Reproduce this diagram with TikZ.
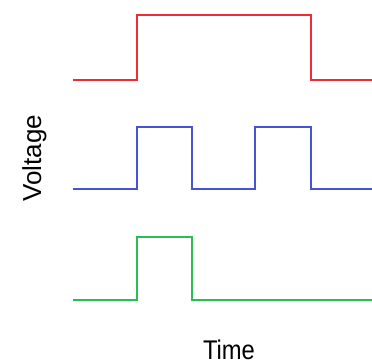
\documentclass[tikz,border=0pt]{standalone}
\usepackage{fontspec}
\setmainfont{Liberation Sans}
\definecolor{sigred}{RGB}{238,44,56}
\definecolor{sigblue}{RGB}{72,82,214}
\definecolor{siggreen}{RGB}{42,190,82}
\begin{document}
\begin{tikzpicture}[x=1pt,y=-1pt,
  wave/.style={line width=2.2pt,line join=miter},
  axislabel/.style={inner sep=0pt,anchor=base}]
\useasboundingbox (0,0) rectangle (372,363);
% clock-like pulse trains
\draw[wave,sigred]   (73,80)  -- (137,80)  -- (137,15)  -- (311,15)  -- (311,80)  -- (372,80);
\draw[wave,sigblue]  (73,189) -- (137,189) -- (137,127) -- (192,127) -- (192,189)
                     -- (255,189) -- (255,127) -- (311,127) -- (311,189) -- (372,189);
\draw[wave,siggreen] (73,300) -- (137,300) -- (137,237) -- (192,237) -- (192,300) -- (372,300);
% axis labels
\node[axislabel,rotate=90,font=\fontsize{26}{30}\selectfont] (vlabel) at (41,158) {Voltage};
\node[axislabel,xscale=0.88,font=\fontsize{27}{32}\selectfont] (tlabel) at (229,359) {Time};
\end{tikzpicture}
\end{document}
